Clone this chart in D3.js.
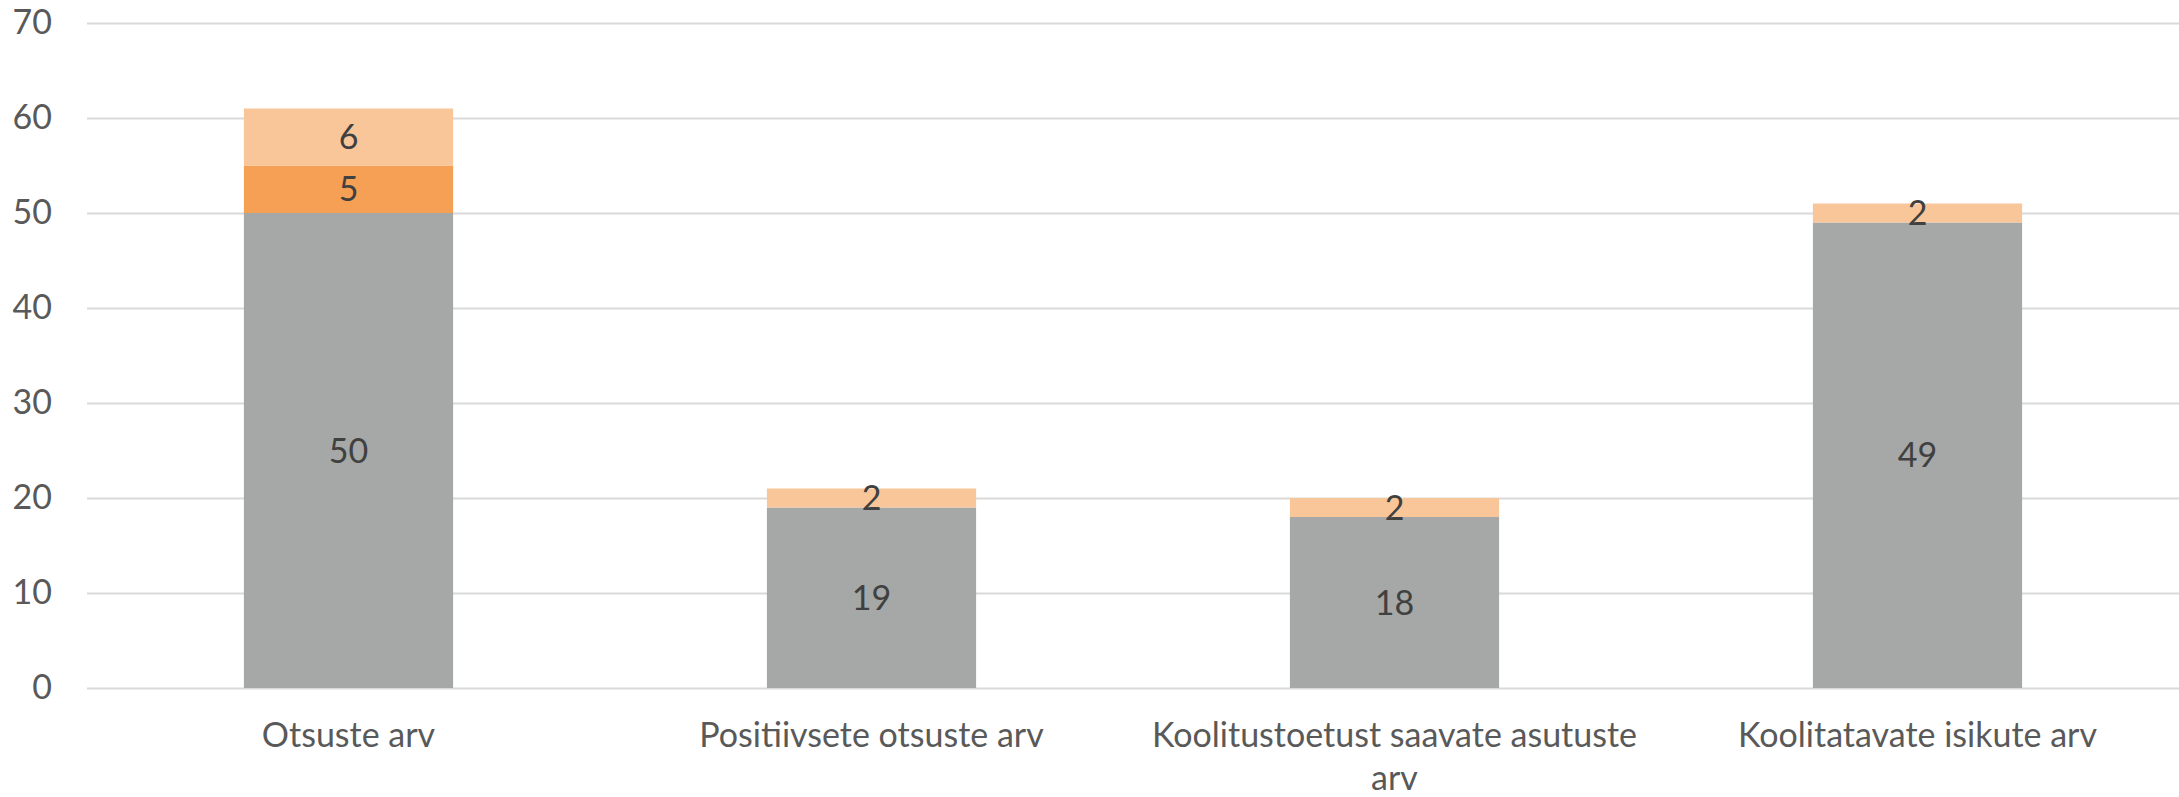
<!DOCTYPE html>
<html>
<head>
<meta charset="utf-8">
<script src="https://cdn.jsdelivr.net/npm/d3@7"></script>
<style>
  body { margin: 0; background: #fff; }
  svg text { font-family: Lato, "Open Sans", sans-serif; }
</style>
</head>
<body>
<svg id="chart" width="2179" height="797"></svg>
<script>
const categories = [
  "Otsuste arv",
  "Positiivsete otsuste arv",
  "Koolitustoetust saavate asutuste arv",
  "Koolitatavate isikute arv"
];
const baseValues = [50, 19, 18, 49];
const midValues = [5, 0, 0, 0];
const topValues = [6, 2, 2, 2];
const yTicks = [0, 10, 20, 30, 40, 50, 60, 70];

const seriesKeys = ["base", "mid", "top"];
const seriesColors = { base: "#a5a8a6", mid: "#f6a055", top: "#f9c69a" };

const rows = categories.map((c, i) => ({
  cat: c,
  base: baseValues[i],
  mid: midValues[i],
  top: topValues[i]
}));

const margin = { top: 23, right: 0, bottom: 109, left: 87 };
const svg = d3.select("#chart");
const width = +svg.attr("width") - margin.left - margin.right;
const height = +svg.attr("height") - margin.top - margin.bottom;

const g = svg.append("g")
  .attr("transform", `translate(${margin.left},${margin.top})`);

const x = d3.scaleBand()
  .domain(categories)
  .range([0, width])
  .paddingInner(0.6)
  .paddingOuter(0.3);

const y = d3.scaleLinear()
  .domain([0, 70])
  .range([height, 0]);

// gridlines + y labels
const yAxis = g.append("g")
  .call(d3.axisLeft(y).tickValues(yTicks).tickSize(-width).tickPadding(35));
yAxis.select(".domain").remove();
yAxis.selectAll(".tick line")
  .attr("stroke", "#d9d9d9")
  .attr("stroke-width", 2);
yAxis.selectAll(".tick text")
  .attr("fill", "#595959")
  .style("font-size", "34px");

const stacked = d3.stack().keys(seriesKeys)(rows);

const layers = g.selectAll(".layer")
  .data(stacked)
  .enter()
  .append("g")
  .attr("class", "layer")
  .attr("fill", d => seriesColors[d.key]);

layers.selectAll("rect")
  .data(d => d.filter(p => p[1] - p[0] > 0))
  .enter()
  .append("rect")
  .attr("x", d => x(d.data.cat))
  .attr("y", d => y(d[1]))
  .attr("width", x.bandwidth())
  .attr("height", d => y(d[0]) - y(d[1]));

layers.selectAll("text")
  .data(d => d.filter(p => p[1] - p[0] > 0))
  .enter()
  .append("text")
  .attr("x", d => x(d.data.cat) + x.bandwidth() / 2)
  .attr("y", d => y((d[0] + d[1]) / 2))
  .attr("dy", "0.36em")
  .attr("text-anchor", "middle")
  .attr("fill", "#404040")
  .style("font-size", "34px")
  .text(d => d[1] - d[0]);

// category labels
const xAxis = g.append("g")
  .attr("transform", `translate(0,${height})`)
  .call(d3.axisBottom(x).tickSize(0).tickPadding(35));
xAxis.select(".domain").remove();
xAxis.selectAll(".tick text")
  .attr("fill", "#595959")
  .style("font-size", "34px")
  .call(wrap, x.step() * 0.95);

function wrap(texts, maxWidth) {
  texts.each(function () {
    const text = d3.select(this);
    const words = text.text().split(/\s+/);
    const yPos = text.attr("y");
    const dy = parseFloat(text.attr("dy")) || 0;
    text.text(null);
    let line = [];
    let lineNo = 0;
    let tspan = text.append("tspan").attr("x", 0).attr("y", yPos).attr("dy", dy + "em");
    words.forEach(w => {
      line.push(w);
      tspan.text(line.join(" "));
      if (tspan.node().getComputedTextLength() > maxWidth && line.length > 1) {
        line.pop();
        tspan.text(line.join(" "));
        line = [w];
        lineNo++;
        tspan = text.append("tspan")
          .attr("x", 0)
          .attr("y", yPos)
          .attr("dy", (dy + lineNo * 1.27) + "em")
          .text(w);
      }
    });
  });
}
</script>
</body>
</html>
